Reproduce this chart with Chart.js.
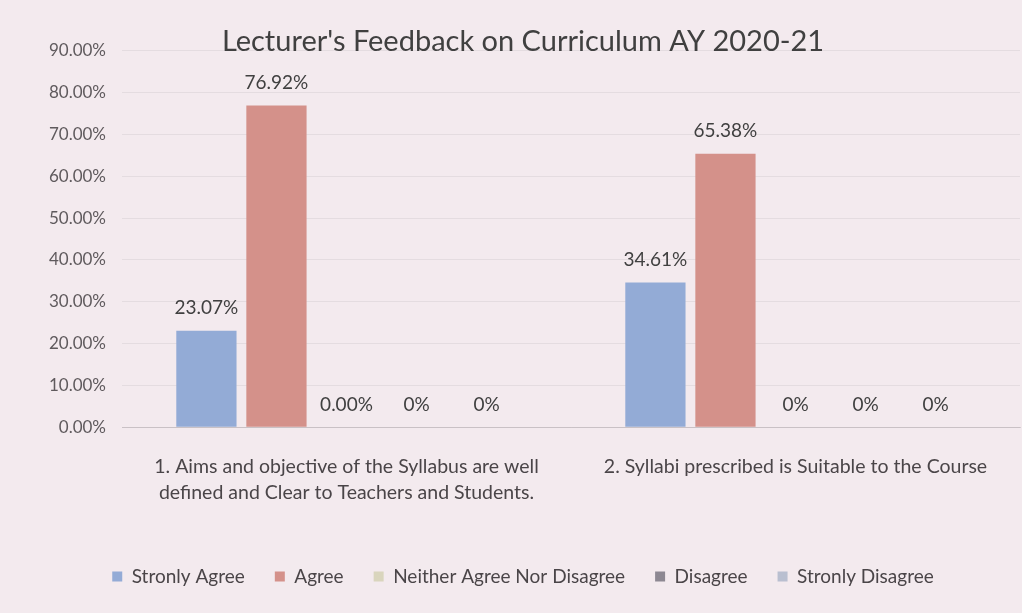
<!DOCTYPE html>
<html lang="en">
<head>
  <meta charset="UTF-8" />
  <title>Lecturer's Feedback on Curriculum AY 2020-21</title>
  <style>
    html, body {
      margin: 0;
      padding: 0;
      background: #f3eaee;
    }
    #wrap {
      width: 1022px;
      height: 613px;
    }
  </style>
</head>
<body>
  <div id="wrap"><canvas id="feedbackChart"></canvas></div>

  <script src="https://cdn.jsdelivr.net/npm/chart.js"></script>
  <script>
    // categories (questions), one line per array entry
    const questions = [
      ['1. Aims and objective of the Syllabus are well', 'defined and Clear to Teachers and Students.'],
      ['2. Syllabi prescribed is Suitable to the Course']
    ];

    const seriesNames = ['Stronly Agree', 'Agree', 'Neither Agree Nor Disagree', 'Disagree', 'Stronly Disagree'];

    // values in percent, one entry per question
    const stronglyAgree = [23.07, 34.61];
    const agree = [76.92, 65.38];
    const neither = [0, 0];
    const disagree = [0, 0];
    const stronglyDisagree = [0, 0];

    // labels as printed above each bar
    const stronglyAgreeLabels = ['23.07%', '34.61%'];
    const agreeLabels = ['76.92%', '65.38%'];
    const neitherLabels = ['0.00%', '0%'];
    const disagreeLabels = ['0%', '0%'];
    const stronglyDisagreeLabels = ['0%', '0%'];

    const yTicks = [0, 10, 20, 30, 40, 50, 60, 70, 80, 90];

    const seriesValues = [stronglyAgree, agree, neither, disagree, stronglyDisagree];
    const seriesLabels = [stronglyAgreeLabels, agreeLabels, neitherLabels, disagreeLabels, stronglyDisagreeLabels];
    const seriesColors = ['#93abd6', '#d4918a', '#d9d5bd', '#8d8892', '#b9bfd0'];

    const FONT = 'Lato, "Open Sans", sans-serif';

    // draws the value text above every bar
    const barValueLabels = {
      id: 'barValueLabels',
      afterDatasetsDraw(chart) {
        const ctx = chart.ctx;
        ctx.save();
        ctx.font = '19px ' + FONT;
        ctx.fillStyle = '#404040';
        ctx.textAlign = 'center';
        ctx.textBaseline = 'bottom';
        chart.data.datasets.forEach((ds, i) => {
          const meta = chart.getDatasetMeta(i);
          meta.data.forEach((bar, j) => {
            ctx.fillText(seriesLabels[i][j], bar.x, bar.y - 13);
          });
        });
        ctx.restore();
      }
    };

    const datasets = seriesNames.map((name, i) => ({
      label: name,
      data: seriesValues[i],
      backgroundColor: seriesColors[i],
      borderWidth: 0,
      categoryPercentage: 0.78,
      barPercentage: 0.86
    }));

    new Chart(document.getElementById('feedbackChart'), {
      type: 'bar',
      data: { labels: questions, datasets: datasets },
      plugins: [barValueLabels],
      options: {
        responsive: true,
        maintainAspectRatio: false,
        animation: false,
        layout: { padding: { left: 26, right: 2, top: 0, bottom: 17 } },
        scales: {
          y: {
            min: 0,
            max: 90,
            afterBuildTicks: (scale) => {
              scale.ticks = yTicks.map(v => ({ value: v }));
            },
            afterFit: (scale) => { scale.width = 96; },
            border: { display: false },
            grid: { color: 'rgba(0,0,0,0.06)', drawTicks: false },
            ticks: {
              padding: 16,
              color: '#5f5a5d',
              font: { family: FONT, size: 17 },
              callback: (v) => v.toFixed(2) + '%'
            }
          },
          x: {
            afterFit: (scale) => { scale.height += 13; },
            border: { color: 'rgba(0,0,0,0.12)' },
            grid: { display: false },
            ticks: {
              padding: 18,
              color: '#4a4548',
              font: { family: FONT, size: 19.5, lineHeight: 1.35 },
              maxRotation: 0
            }
          }
        },
        plugins: {
          title: {
            display: true,
            text: "Lecturer's Feedback on Curriculum AY 2020-21",
            color: '#404040',
            font: { family: FONT, size: 29, weight: 'normal' },
            padding: { top: 24, bottom: -8 }
          },
          legend: {
            position: 'bottom',
            labels: {
              boxWidth: 10,
              boxHeight: 10,
              padding: 30,
              color: '#4a4548',
              font: { family: FONT, size: 19 }
            }
          },
          tooltip: { enabled: false }
        }
      }
    });
  </script>
</body>
</html>
